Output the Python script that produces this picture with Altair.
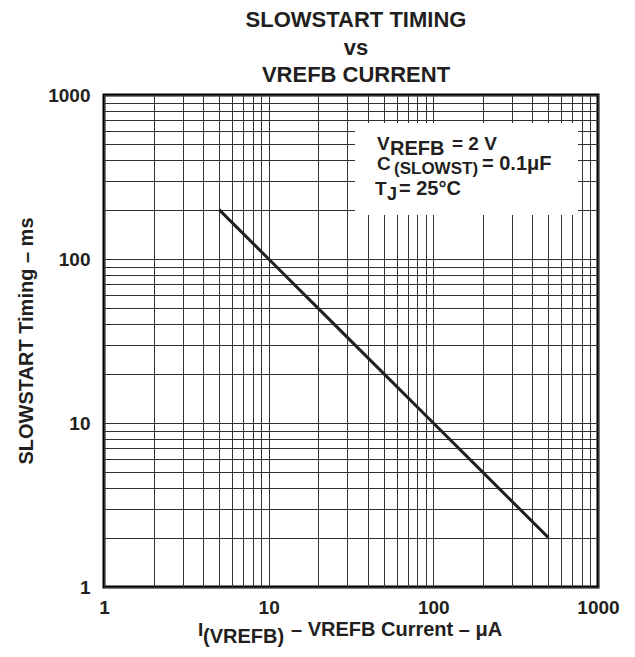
import altair as alt
import pandas as pd

# ---- data ----
current_uA = [5, 10, 20, 50, 100, 200, 500]
timing_ms = [200, 100, 50, 20, 10, 5, 2]
grid_values = [1, 2, 3, 4, 5, 6, 7, 8, 9,
               10, 20, 30, 40, 50, 60, 70, 80, 90,
               100, 200, 300, 400, 500, 600, 700, 800, 900, 1000]
label_values = [1, 10, 100, 1000]
title_lines = ["SLOWSTART TIMING", "vs", "VREFB CURRENT"]

FONT = "Liberation Sans"
INK = "#231f20"
W, H = 494, 492

df = pd.DataFrame({"I": current_uA, "T": timing_ms})
label_expr = f"indexof({label_values}, datum.value) >= 0 ? format(datum.value, 'd') : ''"

def axis(pad):
    return alt.Axis(values=grid_values, grid=True, gridColor="#333333", gridWidth=1,
                    gridOpacity=1, domain=False, ticks=False, tickSize=0,
                    labelExpr=label_expr, labelFont=FONT, labelFontWeight="bold",
                    labelFontSize=19, labelColor=INK, labelPadding=pad,
                    labelFlush=False, labelOverlap=False, title=None)

xscale = alt.Scale(type="log", domain=[1, 1000], nice=False)
yscale = alt.Scale(type="log", domain=[1, 1000], nice=False)

line = alt.Chart(df).mark_line(color=INK, strokeWidth=3).encode(
    x=alt.X("I:Q", scale=xscale, axis=axis(11)),
    y=alt.Y("T:Q", scale=yscale, axis=axis(14)),
)

dummy = pd.DataFrame({"d": [0]})

box = alt.Chart(dummy).mark_rect(fill="white").encode(
    x=alt.value(251), x2=alt.value(474), y=alt.value(28), y2=alt.value(120)
)

def txt(s, x, y, size=20, align="left", angle=0):
    return alt.Chart(dummy).mark_text(
        text=s, font=FONT, fontWeight="bold", fontSize=size, align=align,
        baseline="alphabetic", angle=angle, color=INK
    ).encode(x=alt.value(x), y=alt.value(y))

texts = [
    # title
    txt(title_lines[0], 252, -68, 22, "center"),
    txt(title_lines[1], 252, -40, 22, "center"),
    txt(title_lines[2], 252, -13, 22, "center"),
    # conditions box
    txt("V", 273, 55, 19),
    txt("REFB", 286, 60, 20),
    txt("= 2 V", 348, 55, 19),
    txt("C", 273, 75, 19),
    txt("(SLOWST)", 290, 79, 17),
    txt("= 0.1\u03bcF", 378, 75, 20),
    txt("T", 271, 100, 19),
    txt("J", 283, 105, 18),
    txt("= 25\u00b0C", 295, 100, 20),
    # x axis title
    txt("I", 94, 541, 19),
    txt("(VREFB)", 99, 548, 20),
    txt("\u2013 VREFB Current \u2013 \u03bcA", 187, 541, 20),
    # y axis title
    txt("SLOWSTART Timing \u2013 ms", -71, 246, 20, "center", 270),
]

chart = alt.layer(line, box, *texts).properties(
    width=W, height=H,
    padding={"left": 96, "top": 87, "right": 25, "bottom": 62},
    autosize=alt.AutoSizeParams(type="none"),
    background="white",
).configure_view(stroke="black", strokeWidth=3)

chart.save("out.html", embed_options={"renderer": "svg", "actions": False})
